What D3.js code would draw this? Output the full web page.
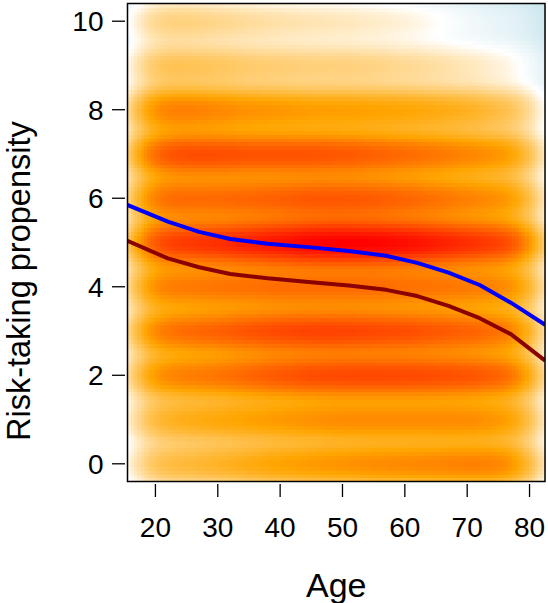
<!DOCTYPE html>
<html>
<head>
<meta charset="utf-8">
<script src="https://cdn.jsdelivr.net/npm/d3@7"></script>
<style>
  body { margin: 0; background: #fff; }
  svg { display: block; font-family: 'Liberation Sans', Arial, Helvetica, sans-serif; }
</style>
</head>
<body>
<svg id="chart"></svg>
<script>
const svgWidth = 548;
const svgHeight = 603;

const ageNodes = [20, 25, 30, 35, 40, 45, 50, 55, 60, 65, 70, 75, 80];
const ageRange = [18, 80];
const answerRange = [0, 10];

// relative density (percent of the peak) of each answer, per age node
const answer0 = [11, 12, 14, 17, 20, 22, 24, 26, 27, 28, 30, 29, 22];
const answer1 = [14, 16, 18, 20, 22, 24, 26, 26, 26, 26, 26, 23, 19];
const answer2 = [27, 30, 33, 39, 45, 50, 52, 52, 52, 50, 47, 41, 32];
const answer3 = [33, 37, 41, 47, 52, 55, 55, 52, 50, 45, 41, 35, 27];
const answer4 = [31, 31, 33, 34, 36, 36, 36, 36, 34, 33, 31, 28, 25];
const answer5 = [55, 60, 66, 75, 85, 96, 100, 96, 89, 78, 66, 57, 45];
const answer6 = [37, 37, 37, 39, 41, 45, 45, 43, 39, 34, 29, 25, 20];
const answer7 = [45, 50, 50, 47, 47, 47, 45, 41, 37, 33, 28, 24, 19];
const answer8 = [30, 30, 27, 24, 23, 21, 21, 20, 19, 17, 15, 11, 9];
const answer9 = [9.8, 9.2, 8.5, 7.3, 6.8, 6.3, 6.3, 5.8, 4.9, 4.1, 3.1, 2.1, 1.3];
const answer10 = [6.3, 6.3, 5.3, 4.5, 3.8, 3.4, 3.1, 2.6, 2.1, 1.3, 0.6, 0.3, 0.2];

// fitted curves
const fitAges = [15.5, 22, 27, 32, 38, 45, 51, 57, 62, 67, 72, 77, 82.5];
const fitBlue = [5.85, 5.47, 5.24, 5.08, 4.97, 4.89, 4.81, 4.70, 4.54, 4.32, 4.04, 3.64, 3.14];
const fitDarkRed = [5.04, 4.64, 4.44, 4.29, 4.19, 4.10, 4.03, 3.93, 3.79, 3.57, 3.29, 2.93, 2.33];

const xTicks = [20, 30, 40, 50, 60, 70, 80];
const yTicks = [0, 2, 4, 6, 8, 10];

const answers = [answer0, answer1, answer2, answer3, answer4, answer5,
  answer6, answer7, answer8, answer9, answer10];

const plot = { left: 127.5, right: 545, top: 3.5, bottom: 481.5 };

// R style 4% padding
const padX = (ageRange[1] - ageRange[0]) * 0.04;
const padY = (answerRange[1] - answerRange[0]) * 0.04;

const x = d3.scaleLinear()
  .domain([ageRange[0] - padX, ageRange[1] + padX])
  .range([plot.left, plot.right]);
const y = d3.scaleLinear()
  .domain([answerRange[0] - padY, answerRange[1] + padY])
  .range([plot.bottom, plot.top]);

const svg = d3.select('#chart')
  .attr('width', svgWidth)
  .attr('height', svgHeight);

// Density (smoothScatter like)
const nbin = 128;
const bwAge = 2.5;
const bwAnswer = 0.32;
const bwNodes = 2.6;

const erf = z => {
  const s = z < 0 ? -1 : 1;
  const a = Math.abs(z);
  const t = 1 / (1 + 0.3275911 * a);
  const p = t * (0.254829592 + t * (-0.284496736 + t * (1.421413741 + t * (-1.453152027 + t * 1.061405429))));
  return s * (1 - p * Math.exp(-a * a));
};
const pnorm = z => 0.5 * (1 + erf(z / Math.SQRT2));
const gauss = z => Math.exp(-0.5 * z * z);

const [x0, x1] = x.domain();
const [y0, y1] = y.domain();
const dx = (x1 - x0) / nbin;
const dy = (y1 - y0) / nbin;

const cells = [];
let maxDens = 0;
for (let i = 0; i < nbin; i++) {
  const cx = x0 + (i + 0.5) * dx;
  const k = ageNodes.map(a => gauss((cx - a) / bwNodes));
  const ks = d3.sum(k);
  const w = answers.map(row => d3.sum(row, (v, j) => v * k[j]) / ks);
  const edge = pnorm((ageRange[1] - cx) / bwAge) - pnorm((ageRange[0] - cx) / bwAge);
  for (let j = 0; j < nbin; j++) {
    const cy = y0 + (j + 0.5) * dy;
    const dens = edge * d3.sum(w, (v, l) => v * gauss((cy - l) / bwAnswer));
    maxDens = Math.max(maxDens, dens);
    cells.push({ a0: cx - dx / 2, a1: cx + dx / 2, r0: cy - dy / 2, r1: cy + dy / 2, dens });
  }
}

const color = d3.scaleLinear()
  .domain([0, 1 / 3, 2 / 3, 1])
  .range(['#add8e6', '#ffffff', '#ffa500', '#ff0000'])
  .interpolate(d3.interpolateRgb);

svg.append('g')
  .attr('shape-rendering', 'crispEdges')
  .selectAll('rect')
  .data(cells)
  .enter()
  .append('rect')
  .attr('x', d => x(d.a0))
  .attr('y', d => y(d.r1))
  .attr('width', d => x(d.a1) - x(d.a0) + 0.6)
  .attr('height', d => y(d.r0) - y(d.r1) + 0.6)
  .attr('fill', d => color(Math.pow(d.dens / maxDens, 0.25)));

// Fitted lines
svg.append('clipPath')
  .attr('id', 'clip')
  .append('rect')
  .attr('x', plot.left)
  .attr('y', plot.top)
  .attr('width', plot.right - plot.left)
  .attr('height', plot.bottom - plot.top);

const line = d3.line()
  .x(d => x(d[0]))
  .y(d => y(d[1]));

[[fitDarkRed, '#8b0000'], [fitBlue, '#0000ff']].forEach(([vals, col]) => {
  svg.append('path')
    .datum(fitAges.map((a, i) => [a, vals[i]]))
    .attr('clip-path', 'url(#clip)')
    .attr('d', line)
    .attr('fill', 'none')
    .attr('stroke', col)
    .attr('stroke-width', 4)
    .attr('stroke-linejoin', 'round');
});

// Frame
svg.append('rect')
  .attr('x', plot.left)
  .attr('y', plot.top)
  .attr('width', plot.right - plot.left)
  .attr('height', plot.bottom - plot.top)
  .attr('fill', 'none')
  .attr('stroke', '#000')
  .attr('stroke-width', 1.5);

// Axes
const xAxis = svg.append('g');
xAxis.selectAll('line')
  .data(xTicks)
  .enter()
  .append('line')
  .attr('x1', d => x(d))
  .attr('x2', d => x(d))
  .attr('y1', plot.bottom + 2.5)
  .attr('y2', plot.bottom + 15.5)
  .attr('stroke', '#000')
  .attr('stroke-width', 1.3);
xAxis.selectAll('text')
  .data(xTicks)
  .enter()
  .append('text')
  .attr('x', d => x(d))
  .attr('y', 537)
  .attr('text-anchor', 'middle')
  .attr('font-size', 28)
  .text(d => d);

const yAxis = svg.append('g');
yAxis.selectAll('line')
  .data(yTicks)
  .enter()
  .append('line')
  .attr('x1', plot.left - 15.5)
  .attr('x2', plot.left - 2.5)
  .attr('y1', d => y(d))
  .attr('y2', d => y(d))
  .attr('stroke', '#000')
  .attr('stroke-width', 1.3);
yAxis.selectAll('text')
  .data(yTicks)
  .enter()
  .append('text')
  .attr('x', 103.5)
  .attr('y', d => y(d) + 10)
  .attr('text-anchor', 'end')
  .attr('font-size', 28)
  .text(d => d);

// Titles
svg.append('text')
  .attr('x', (plot.left + plot.right) / 2)
  .attr('y', 597)
  .attr('text-anchor', 'middle')
  .attr('font-size', 34)
  .text('Age');

svg.append('text')
  .attr('transform', 'translate(29.5,441) rotate(-90)')
  .attr('text-anchor', 'start')
  .attr('font-size', 32.5)
  .text('Risk-taking propensity');
</script>
</body>
</html>
